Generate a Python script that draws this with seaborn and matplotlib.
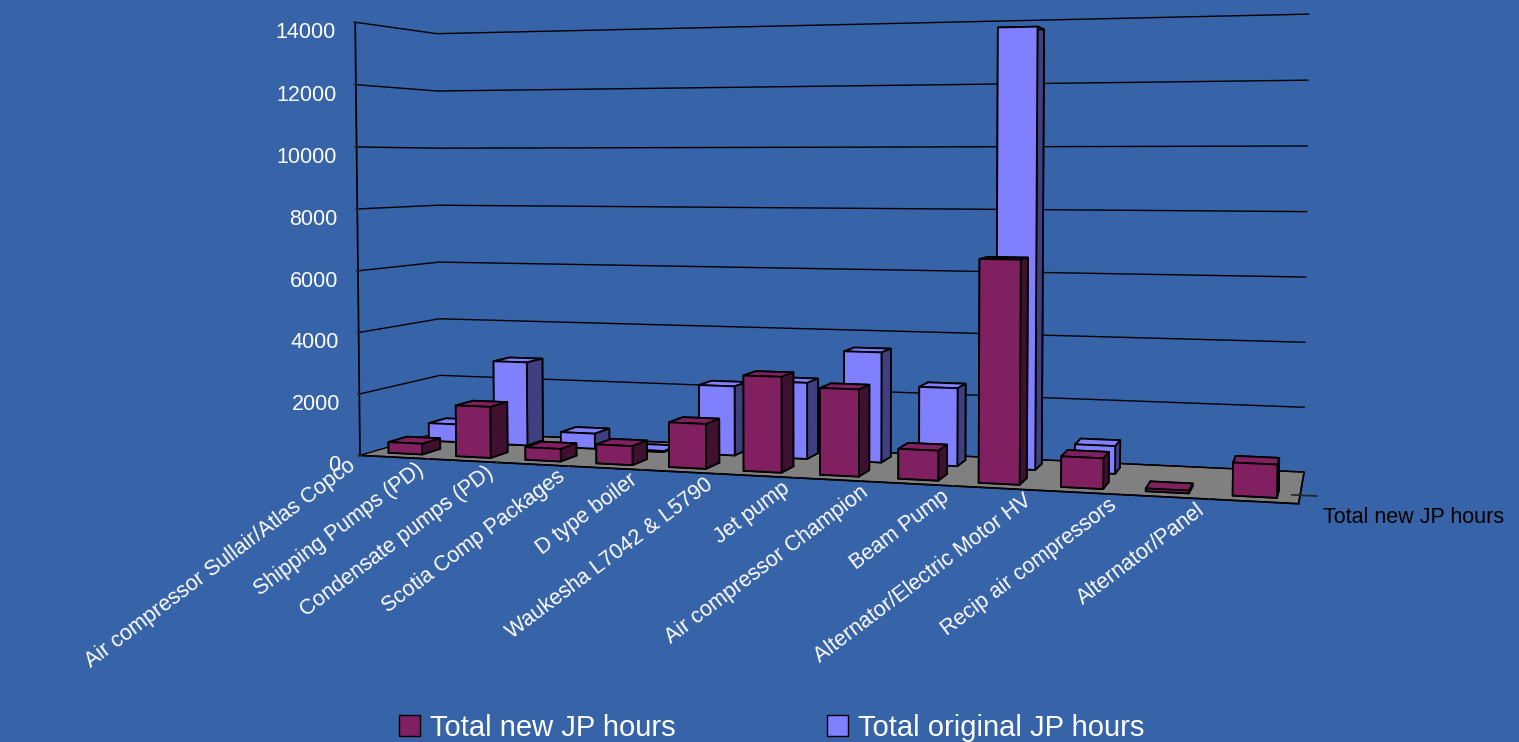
import numpy as np
import matplotlib
matplotlib.use("Agg")
import matplotlib.pyplot as plt
from matplotlib.patches import Patch
import seaborn as sns

# data
categories = [
    "Air compressor Sullair/Atlas Copco",
    "Shipping Pumps (PD)",
    "Condensate pumps (PD)",
    "Scotia Comp Packages",
    "D type boiler",
    "Waukesha L7042 & L5790",
    "Jet pump",
    "Air compressor Champion",
    "Beam Pump",
    "Alternator/Electric Motor HV",
    "Recip air compressors",
    "Alternator/Panel",
]
new_hours = [350, 1650, 400, 600, 1400, 2950, 2650, 900, 6650, 900, 80, 950]
original_hours = [600, 2800, 500, 30, 2250, 2450, 3500, 2450, 13650, 850, 0, 0]
series_names = ["Total new JP hours", "Total original JP hours"]
z_ticks = [0, 2000, 4000, 6000, 8000, 10000, 12000, 14000]

BG = "#3763A8"
FACE = ["#802060", "#8080FF"]
SIDE = ["#401030", "#404080"]

sns.set_theme(style="white")
plt.rcParams["font.family"] = ["Liberation Sans", "DejaVu Sans"]

fig = plt.figure(figsize=(15.19, 7.42), dpi=100, facecolor=BG)
# 3D axes are always square; make the square big and centred on the plot area
S = 1400
cx, cy = 800 / 1519, 1 - 261 / 742
ax = fig.add_axes([cx - S / 2 / 1519, cy - S / 2 / 742, S / 1519, S / 742],
                  projection="3d")
ax.set_facecolor((0, 0, 0, 0))
ax.patch.set_alpha(0)
ax.set_proj_type("persp", focal_length=0.24)
ax.view_init(elev=2.5, azim=-73.5)
ax.set_box_aspect((12, 2.2, 5.7), zoom=0.73)

width, depth = 0.5, 0.45
xs = np.arange(len(categories))
for i, vals in enumerate([new_hours, original_hours]):
    vals = np.asarray(vals, dtype=float)
    keep = vals > 0
    n = keep.sum()
    # per-face colours: bottom, top, front, back, left, right
    face_cols = [FACE[i], FACE[i], FACE[i], SIDE[i], SIDE[i], SIDE[i]] * n
    ax.bar3d(xs[keep] - width / 2, np.full(n, i + 0.5 - depth / 2), 0,
             width, depth, vals[keep], color=face_cols, shade=False,
             edgecolor="black", linewidth=1.3, clip_on=False)

ax.set_xlim(-0.5, len(categories) - 0.5)
ax.set_ylim(0, 2)
ax.set_zlim(0, 14000)

# category labels sit on the tick marks between categories, as in Excel
ax.set_xticks(np.append(xs - 0.5, xs[-1] + 0.5))
ax.set_xticklabels(categories + [""], rotation=37, ha="right", va="top",
                   color="white", fontsize=15.5)
ax.tick_params(axis="x", pad=-8)
ax.set_zticks(z_ticks)
ax.set_zticklabels([str(t) for t in z_ticks], color="white", fontsize=15.5,
                   ha="right")
ax.zaxis.set_ticks_position("lower")
ax.set_yticks([0.5])
ax.set_yticklabels([series_names[0]], color="black", fontsize=15.5, ha="left")

# panes: transparent walls, grey floor
for axis in (ax.xaxis, ax.yaxis):
    axis.set_pane_color((0, 0, 0, 0))
    axis.pane.set_edgecolor("#9a9a9a")
ax.zaxis.set_pane_color("#808080")
ax.zaxis.pane.set_edgecolor("black")

ax.grid(True)
ax.xaxis._axinfo["grid"]["linewidth"] = 0
ax.yaxis._axinfo["grid"]["linewidth"] = 0
ax.zaxis._axinfo["grid"]["color"] = "black"
ax.zaxis._axinfo["grid"]["linewidth"] = 1.0
for axis in (ax.xaxis, ax.yaxis, ax.zaxis):
    axis.line.set_color("black")
    axis._axinfo["tick"]["color"] = "black"

handles = [Patch(facecolor=c, edgecolor="black") for c in FACE]
fig.legend(handles, series_names, loc="lower center", ncol=2, frameon=False,
           fontsize=21, labelcolor="white", handlelength=0.7, handleheight=0.7,
           handletextpad=0.35, columnspacing=5.2, bbox_to_anchor=(0.508, -0.035))

fig.savefig("out.png", dpi=100, facecolor=BG)
